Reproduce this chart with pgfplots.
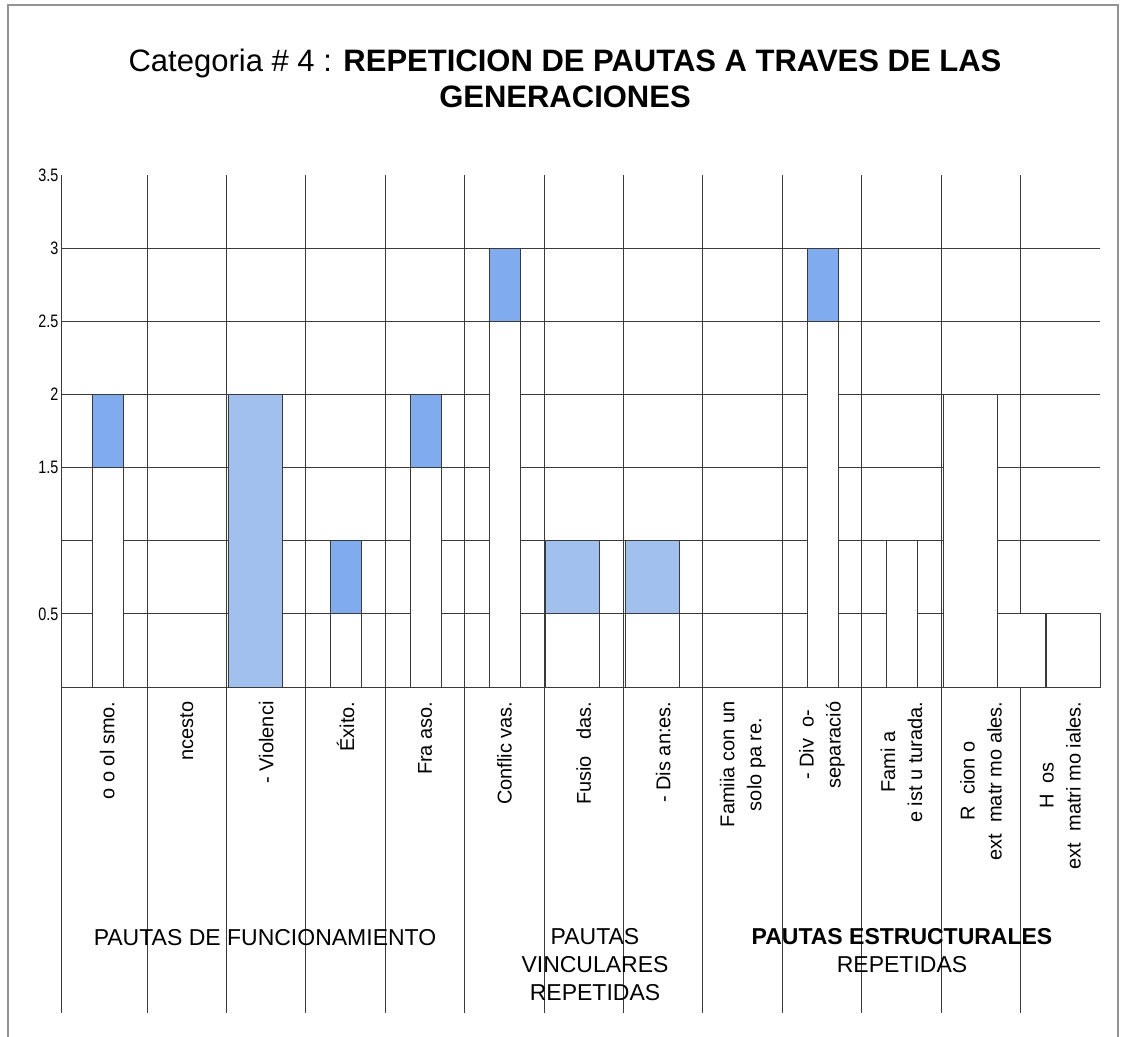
\documentclass[border=0pt]{standalone}
\usepackage{fontspec}
\setmainfont{Liberation Sans}
\newfontfamily\condfont{Liberation Sans}[FakeStretch=0.8]
\usepackage{pgfplots}
\pgfplotsset{compat=1.18}
\definecolor{bardark}{HTML}{80ABEE}
\definecolor{barlight}{HTML}{A2C0EE}
\definecolor{gridc}{HTML}{3A3A3A}
\begin{document}
\begin{tikzpicture}[x=1pt,y=1pt]
\path[use as bounding box] (-62,-349) rectangle (1061,687);
\draw[gray!85, line width=1.5pt] (-54,-360) -- (-54,682) -- (1056,682) -- (1056,-360);
\begin{axis}[
  at={(0,0)}, anchor=south west,
  scale only axis, width=1038pt, height=512pt,
  xmin=-0.571, xmax=12.5, ymin=0, ymax=3.5,
  clip=false,
  axis x line*=bottom, axis y line*=left,
  axis line style={gridc, line width=1pt},
  major tick length=0pt,
  ytick={0.5,1,1.5,2,2.5,3},
  yticklabels={0.5,,1.5,2,2.5,3},
  extra y ticks={3.5}, extra y tick labels={3.5},
  extra y tick style={grid=none},
  ymajorgrids, major grid style={gridc, line width=1pt},
  yticklabel style={font=\condfont\fontsize{18}{20}\selectfont},
  /pgf/number format/assume math mode=true,
  xtick={0,1,2,3,4,5,6,7,8,9,10,11,12},
  xticklabels={{o o ol smo.},{ncesto},{- Violenci},{Éxito.},{Fra aso.},{Conflic vas.},{Fusio \ \ das.},{- Dis an:es.},{Famiia con un\\solo pa re.},{- Div \ o-\\separació},{Fami a\\e ist u turada.},{R \ cion o\\ext \ matr mo ales.},{H \ os\\ext \ matri mo iales.}},
  xticklabel style={rotate=90, anchor=east, align=center, font=\fontsize{20}{27}\selectfont},
  xticklabel shift=11pt,
]
\pgfplotsinvokeforeach{0.5,1.5,...,11.5}{
  \draw[gridc, line width=1pt] (axis cs:#1,3.5) -- (axis cs:#1,-2.228);
}
\draw[gridc, line width=1pt] (axis cs:-0.571,3.5) -- (axis cs:-0.571,-2.228);
% narrow bars: full height in dark blue, lower part white
\addplot[ybar, bar width=0.39, bar shift=0.01, fill=bardark, draw=gridc, line width=1pt]
  coordinates {(0,2) (3,1) (4,2) (5,3) (9,3)};
\addplot[ybar, bar width=0.39, bar shift=0.01, fill=white, draw=gridc, line width=1pt]
  coordinates {(0,1.5) (3,0.5) (4,1.5) (5,2.5) (9,2.5) (10,1)};
% wide bars in light blue
\addplot[ybar, bar width=0.68, bar shift=-0.14, fill=barlight, draw=gridc, line width=1pt]
  coordinates {(2,2) (6,1) (7,1)};
\addplot[ybar, bar width=0.68, bar shift=-0.14, fill=white, draw=gridc, line width=1pt]
  coordinates {(6,0.5) (7,0.5)};
% outlined white boxes of the structural patterns
\addplot[ybar, bar width=0.68, bar shift=-0.13, fill=white, draw=gridc, line width=1pt]
  coordinates {(11,2)};
\addplot[ybar, bar width=0.60, bar shift=0.51, fill=white, draw=gridc, line width=1pt]
  coordinates {(11,0.5)};
\addplot[ybar, bar width=0.68, bar shift=0.16, fill=white, draw=gridc, line width=1pt]
  coordinates {(12,0.5)};
\end{axis}
\node[align=center, font=\fontsize{31}{36}\selectfont] at (503,609)
  {Categoria \# 4 : \textbf{REPETICION DE PAUTAS A TRAVES DE LAS}\\\textbf{GENERACIONES}};
\node[font=\fontsize{23}{28}\selectfont] at (203,-251) {PAUTAS DE FUNCIONAMIENTO};
\node[align=center, font=\fontsize{23}{28}\selectfont] at (533,-278) {PAUTAS\\VINCULARES\\REPETIDAS};
\node[align=center, font=\fontsize{23}{28}\selectfont] at (840,-264) {\textbf{PAUTAS ESTRUCTURALES}\\REPETIDAS};
\end{tikzpicture}
\end{document}
